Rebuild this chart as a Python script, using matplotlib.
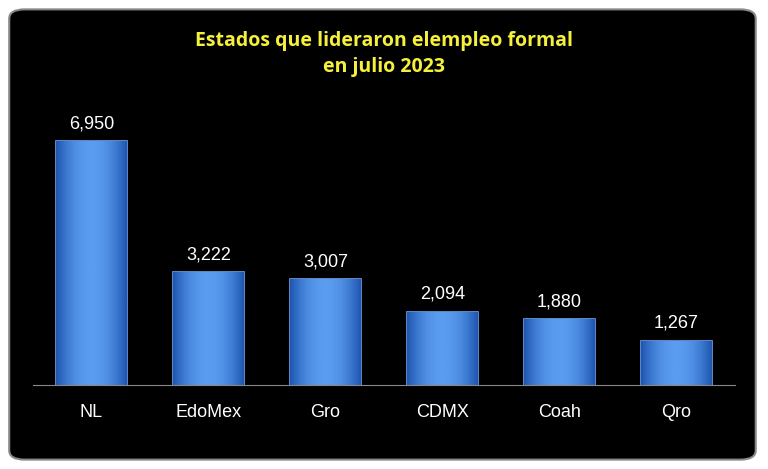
import matplotlib
matplotlib.use("Agg")
import matplotlib.pyplot as plt
import numpy as np
from matplotlib.patches import FancyBboxPatch

categories = ["NL", "EdoMex", "Gro", "CDMX", "Coah", "Qro"]
values = [6950, 3222, 3007, 2094, 1880, 1267]
value_labels = ["6,950", "3,222", "3,007", "2,094", "1,880", "1,267"]

fig = plt.figure(figsize=(7.68, 4.69), dpi=100)
fig.patch.set_facecolor("white")
bg = fig.add_axes([0, 0, 1, 1], zorder=0)
bg.axis("off")
bg.set_xlim(0, 1)
bg.set_ylim(0, 1)
bg.add_patch(FancyBboxPatch((0.012, 0.02), 0.972, 0.96, boxstyle="round,pad=0,rounding_size=0.02",
                            facecolor="black", edgecolor="#888888", lw=1.5))

ax = fig.add_axes([0.043, 0.179, 0.914, 0.608], zorder=1)
ax.patch.set_alpha(0)
x = np.arange(len(categories))
bars = ax.bar(x, values, width=0.6, color="#3f7fd6", edgecolor="#6fa3ea", lw=1.2)
grad = np.linspace(0, 1, 64)
grad = 1 - (2 * grad - 1) ** 2
cmap = matplotlib.colors.LinearSegmentedColormap.from_list("b", ["#1f56b0", "#5a9cf0"])
for b in bars:
    x0, w, h = b.get_x(), b.get_width(), b.get_height()
    im = ax.imshow(grad[None, :], extent=[x0, x0 + w, 0, h], aspect="auto", cmap=cmap, zorder=2)
    im.set_clip_path(b)
for xi, v, lab in zip(x, values, value_labels):
    ax.text(xi, v + 250, lab, ha="center", va="bottom", color="white", fontsize=13, family="Liberation Sans")
ax.set_xlim(-0.5, 5.5)
ax.set_ylim(0, 8120)
ax.set_xticks(x)
ax.set_xticklabels(categories, color="white", fontsize=13, family="Liberation Sans")
ax.tick_params(axis="x", length=0, pad=14)
ax.set_yticks([])
for s in ["top", "left", "right"]:
    ax.spines[s].set_visible(False)
ax.spines["bottom"].set_color("#888888")

fig.text(0.5, 0.885, "Estados que lideraron elempleo formal\nen julio 2023", ha="center", va="center",
         color="#f5f03c", fontsize=14, fontweight="bold", family="Open Sans", linespacing=1.4)
fig.savefig("out.png", dpi=100, facecolor="white")
